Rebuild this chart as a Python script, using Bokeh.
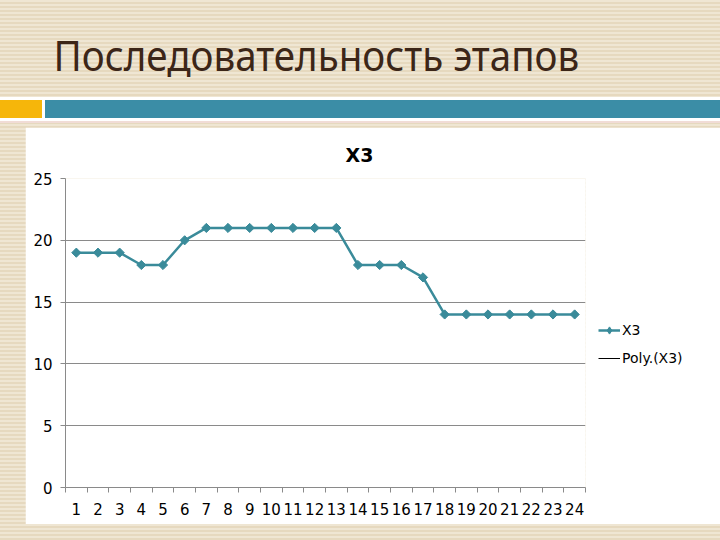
import math
from bokeh.plotting import figure
from bokeh.models import Range1d, FixedTicker, Legend, LegendItem, Div
from bokeh.layouts import column
from bokeh.embed import file_html
from bokeh.resources import INLINE

# ---- data ----
slide_title = "Последовательность этапов"
chart_title = "X3"
stages = list(range(1, 25))
x3 = [19, 19, 19, 18, 18, 20, 21, 21, 21, 21, 21, 21, 21,
      18, 18, 18, 17, 14, 14, 14, 14, 14, 14, 14]
y_ticks = [0, 5, 10, 15, 20, 25]
series_name = "X3"
trend_name = "Poly.(X3)"

TEAL = "#3a8b9a"
GRID = "#8a8a8a"

p = figure(frame_width=520, frame_height=309,
           x_range=Range1d(0.5, 24.5), y_range=Range1d(0, 25),
           output_backend="svg", toolbar_location=None,
           min_border_left=40, min_border_right=113,
           min_border_top=51, min_border_bottom=37,
           margin=(0, 0, 0, 25))
p.background_fill_color = "white"
p.border_fill_color = "white"
p.outline_line_color = None

p.title.text = chart_title
p.title.align = "left"
p.title.offset = 280
p.title.standoff = 25
p.title.text_font = "DejaVu Sans"
p.title.text_font_size = "19px"
p.title.text_font_style = "bold"
p.title.text_color = "black"

# axes
p.xaxis.ticker = FixedTicker(ticks=stages,
                             minor_ticks=[s - 0.5 for s in stages] + [stages[-1] + 0.5])
p.xaxis.major_tick_out = 0
p.xaxis.major_tick_in = 0
p.xaxis.minor_tick_out = 5
p.xaxis.minor_tick_in = 0
p.xaxis.minor_tick_line_color = GRID
p.xaxis.major_label_standoff = 10
p.yaxis.ticker = FixedTicker(ticks=y_ticks)
p.yaxis.major_tick_out = 5
p.yaxis.major_tick_in = 0
p.yaxis.minor_tick_line_color = None
p.yaxis.major_label_standoff = 8
for ax in (p.xaxis, p.yaxis):
    ax.axis_line_color = GRID
    ax.major_tick_line_color = GRID
    ax.major_label_text_font = "DejaVu Sans"
    ax.major_label_text_font_size = "15px"
    ax.major_label_text_color = "black"

p.xgrid.visible = False
p.ygrid.ticker = FixedTicker(ticks=y_ticks)
p.ygrid.grid_line_color = GRID
p.ygrid.grid_line_width = 1

ln = p.line(stages, x3, line_color=TEAL, line_width=2.5)
sc = p.scatter(stages, x3, marker="square", size=6.5, angle=math.pi / 4,
               fill_color=TEAL, line_color=TEAL)
# legend-only glyphs (not drawn on the plot)
sc_key = p.scatter(stages, x3, marker="diamond", size=10,
                   fill_color=TEAL, line_color=TEAL, visible=False)
poly = p.line(stages, x3, line_color="black", line_width=1, visible=False)

legend = Legend(items=[LegendItem(label=series_name, renderers=[ln, sc_key]),
                       LegendItem(label=trend_name, renderers=[poly])],
                location="center_left", padding=0, margin=13, spacing=10,
                glyph_width=22, glyph_height=18, label_height=18, label_standoff=2,
                border_line_color=None, background_fill_alpha=0,
                inactive_fill_alpha=0,
                title=" ", title_text_font_size="16px", title_standoff=4,
                label_text_font="DejaVu Sans", label_text_font_size="14px",
                label_text_color="black")
p.add_layout(legend, "right")

header = Div(text=('<div style="padding:35px 0 0 57px; font-family:\'Noto Sans\'; '
                   'font-size:41px; line-height:1; color:#3c2618; white-space:nowrap; '
                   'transform:scaleX(0.94); transform-origin:0 0;">'
                   + slide_title + '</div>'),
             width=712, height=127, margin=(0, 0, 0, 0))

layout = column(header, p, spacing=0)

css = """<style>
html{background:
 linear-gradient(#f6b60a,#f6b60a) 0 100px/42px 18px no-repeat,
 linear-gradient(#3b8da6,#3b8da6) 45px 100px/675px 18px no-repeat,
 linear-gradient(#f1dcd6,#f1dcd6) 0 121px/720px 2px no-repeat,
 linear-gradient(#ffffff,#ffffff) 0 97px/720px 24px no-repeat,
 repeating-linear-gradient(to bottom,#efe6d3 0px,#efe6d3 2px,#e6d9bf 2px,#e6d9bf 4px);}
body{background:transparent;}
</style>"""

html = file_html(layout, INLINE).replace("</head>", css + "</head>")
open("out.html", "w").write(html)
